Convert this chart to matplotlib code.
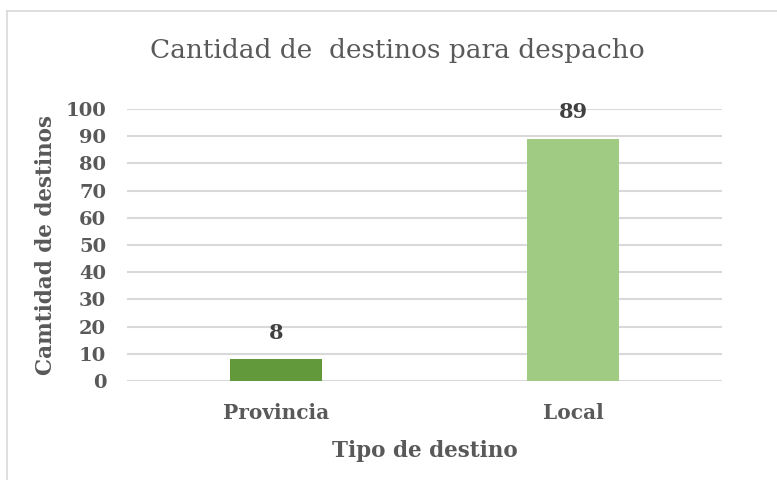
"""Bar chart: cantidad de destinos para despacho."""

import matplotlib.pyplot as plt
from matplotlib.lines import Line2D

categories = ["Provincia", "Local"]
values = [8, 89]
bar_colors = ["#629a3b", "#a0cb82"]
y_ticks = list(range(0, 101, 10))

TEXT = "#595959"
GRID = "#d9d9d9"
plt.rcParams["font.family"] = ["DejaVu Serif"]

fig = plt.figure(figsize=(7.77, 4.80), dpi=100)
ax = fig.add_axes([0.1634, 0.206, 0.7656, 0.567])

x = list(range(len(categories)))
ax.bar(x, values, width=0.31, color=bar_colors, zorder=3)
for xi, v in zip(x, values):
    ax.annotate(str(v), (xi, v), xytext=(0, 12), textcoords="offset points",
                ha="center", va="bottom", fontsize=15, fontweight="bold", color="#404040")

ax.set_xlim(-0.5, 1.5)
ax.set_ylim(0, 100)
ax.set_yticks(y_ticks)
ax.set_xticks(x)
ax.set_xticklabels(categories)
ax.tick_params(length=0, labelsize=14, labelcolor=TEXT)
ax.tick_params(axis="y", pad=15)
ax.tick_params(axis="x", pad=16, labelsize=14.5)
for lbl in ax.get_xticklabels() + ax.get_yticklabels():
    lbl.set_fontweight("bold")
ax.grid(axis="y", color=GRID, lw=1.5, zorder=0)
for s in ax.spines.values():
    s.set_visible(False)

ax.set_ylabel("Camtidad de destinos", fontsize=15.5, fontweight="bold", color=TEXT, labelpad=6)
ax.set_xlabel("Tipo de destino", fontsize=15.5, fontweight="bold", color=TEXT, labelpad=12)
fig.text(0.512, 0.895, "Cantidad de  destinos para despacho", ha="center", va="center",
         fontsize=19, color=TEXT)

# chart frame: only the top and left edges are visible in the source
fx, fy = 7 / 777, 1 - 11 / 480
fig.add_artist(Line2D([fx, 1], [fy, fy], transform=fig.transFigure, color=GRID, lw=1.2))
fig.add_artist(Line2D([fx, fx], [0, fy], transform=fig.transFigure, color=GRID, lw=1.2))

fig.savefig("out.png", dpi=100)
